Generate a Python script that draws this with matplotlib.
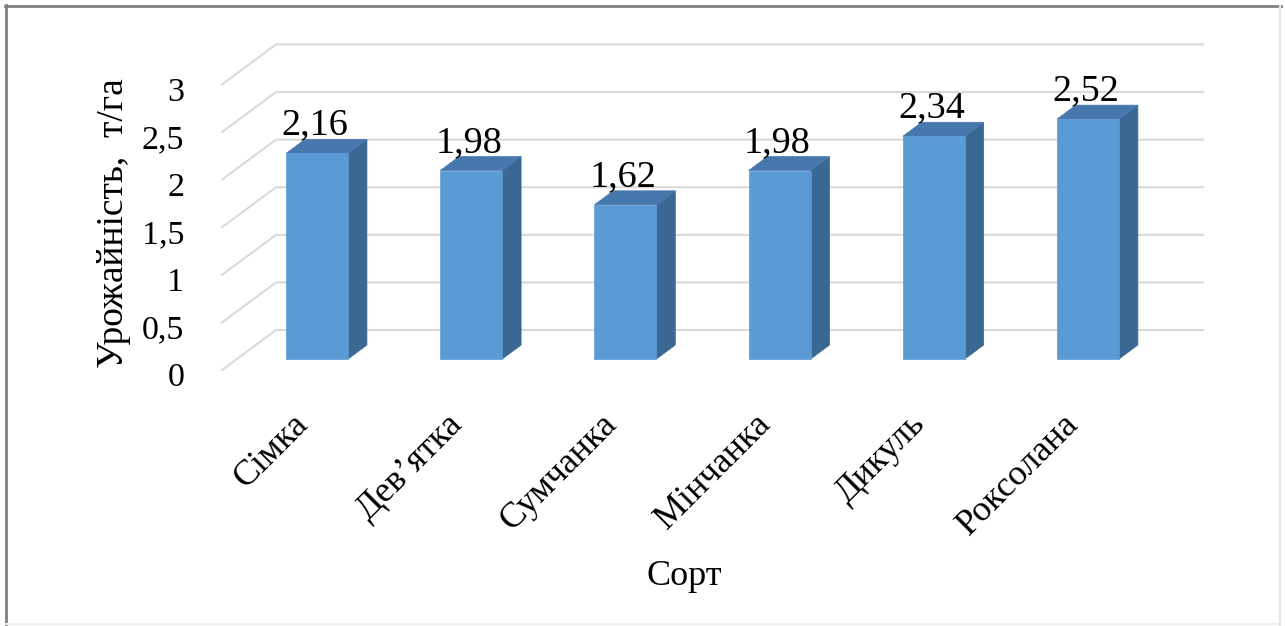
import matplotlib
matplotlib.use("Agg")
import matplotlib.pyplot as plt
from matplotlib.patches import Polygon
from matplotlib.lines import Line2D

# ---- data ----
categories = ["Сімка", "Дев’ятка", "Сумчанка", "Мінчанка", "Дикуль", "Роксолана"]
values = [2.16, 1.98, 1.62, 1.98, 2.34, 2.52]
value_labels = ["2,16", "1,98", "1,62", "1,98", "2,34", "2,52"]
y_ticks = [0, 0.5, 1, 1.5, 2, 2.5, 3]
y_tick_labels = ["0", "0,5", "1", "1,5", "2", "2,5", "3"]
y_title = "Урожайність,  т/га"
x_title = "Сорт"

# ---- style ----
FONT = "Liberation Serif"
FRONT = "#5B9BD5"
TOP = "#4677AD"
SIDE = "#3A6892"
GRID = "#D9D9D9"

# oblique projection parameters (data units)
DX, DY = 0.350, 0.420      # full depth offset of the back wall
ZF, ZB = 0.275, 0.625      # bar front / back depth
BW = 0.402                 # bar width
XL, XR = -0.52, 5.49       # wall extents along category axis

def proj(x, v, z):
    return (x + z * DX, v + z * DY)

fig = plt.figure(figsize=(12.85, 6.26), dpi=100)
ax = fig.add_axes([0, 0, 1, 1])
ax.set_xlim(-1.960, 6.374)
ax.set_ylim(-2.689, 3.887)
ax.axis("off")

# gridlines: back wall + left wall
for t in y_ticks:
    p0 = proj(XL, t, 0)
    p1 = proj(XL, t, 1)
    p2 = proj(XR, t, 1)
    ax.plot([p0[0], p1[0], p2[0]], [p0[1], p1[1], p2[1]], color=GRID,
            lw=1.5, zorder=1, solid_joinstyle="miter")

# bars
for i, (v, lab) in enumerate(zip(values, value_labels)):
    x0, x1 = i - BW / 2, i + BW / 2
    front = [proj(x0, 0, ZF), proj(x1, 0, ZF), proj(x1, v, ZF), proj(x0, v, ZF)]
    side = [proj(x1, 0, ZF), proj(x1, 0, ZB), proj(x1, v, ZB), proj(x1, v, ZF)]
    top = [proj(x0, v, ZF), proj(x1, v, ZF), proj(x1, v, ZB), proj(x0, v, ZB)]
    for pts, c in ((side, SIDE), (top, TOP), (front, FRONT)):
        ax.add_patch(Polygon(pts, closed=True, facecolor=c, edgecolor=c,
                             lw=0.5, zorder=3))
    tx, ty = proj(i, v, ZB)
    ax.text(proj(i, v, ZF)[0] - 0.015, ty + 0.05, lab, ha="center", va="baseline",
            fontsize=27.5, family=FONT, color="black", zorder=5)

# y tick labels (front plane)
for t, lab in zip(y_ticks, y_tick_labels):
    px, py = proj(XL, t, 0)
    ax.text(px - 0.245, py - 0.085, lab, ha="right", va="center",
            fontsize=24.5, family=FONT, color="black")

# category labels
for i, lab in enumerate(categories):
    px, py = proj(i, 0, ZF)
    ax.text(px - 0.09, -0.52, lab, ha="right", va="center", rotation=45,
            rotation_mode="anchor", fontsize=26, family=FONT, color="black")

# axis titles
ax.text(-1.22, 1.54, y_title, ha="center", va="center", rotation=90,
        fontsize=27, family=FONT, color="black")
ax.text(2.48, -2.17, x_title, ha="center", va="center",
        fontsize=26, family=FONT, color="black")

# outer frame
W, H = 1285, 626
fig.add_artist(Line2D([5 / W, 1281 / W], [1 - 6 / H, 1 - 6 / H], color="#808080", lw=2))
fig.add_artist(Line2D([6 / W, 6 / W], [0, 1 - 5 / H], color="#808080", lw=2))
fig.add_artist(Line2D([1280 / W, 1280 / W], [0, 1 - 6 / H], color="#E6E6E6", lw=1.5))
fig.add_artist(Line2D([6 / W, 1280 / W], [2 / H, 2 / H], color="#EEEEEE", lw=1.5))

fig.savefig("out.png", dpi=100, facecolor="white")
